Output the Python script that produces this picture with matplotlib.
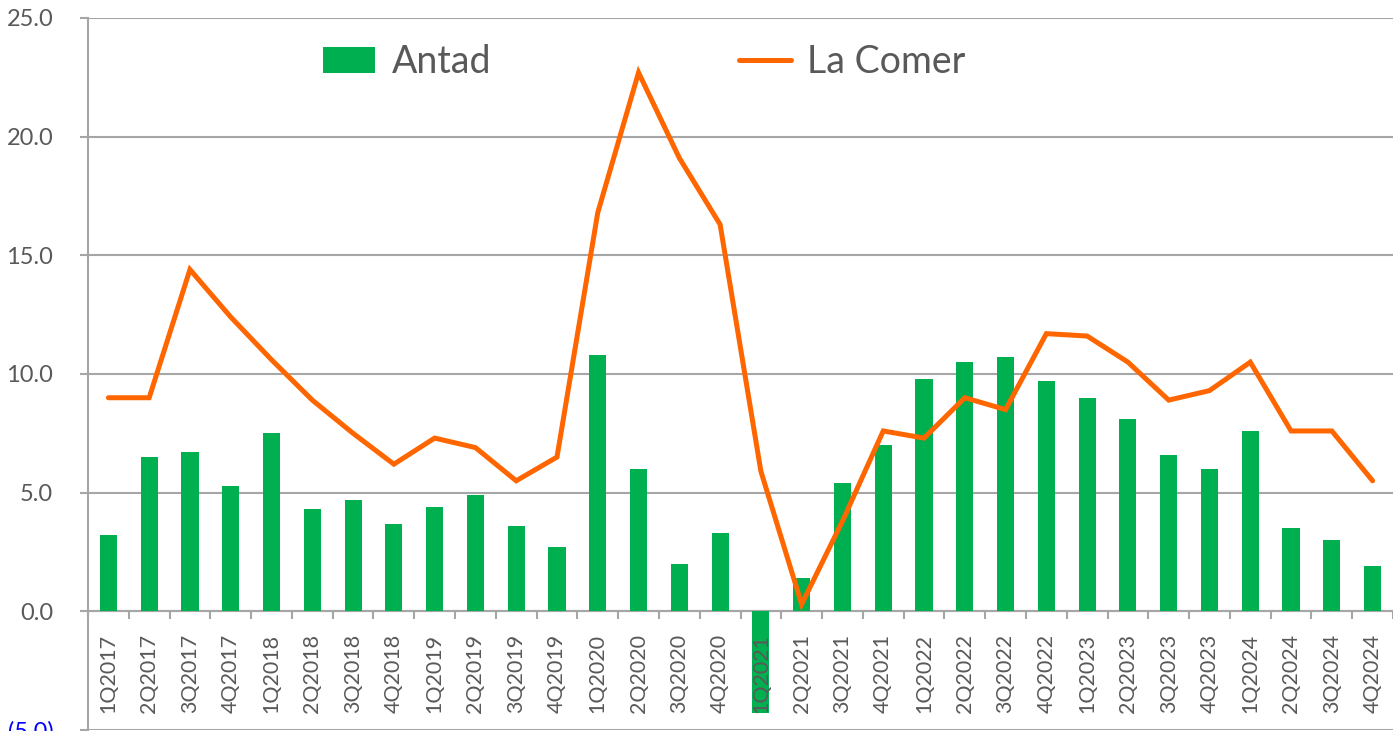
import matplotlib
matplotlib.use("Agg")
import matplotlib.pyplot as plt
import numpy as np

quarters = ["1Q2017","2Q2017","3Q2017","4Q2017","1Q2018","2Q2018","3Q2018","4Q2018",
            "1Q2019","2Q2019","3Q2019","4Q2019","1Q2020","2Q2020","3Q2020","4Q2020",
            "1Q2021","2Q2021","3Q2021","4Q2021","1Q2022","2Q2022","3Q2022","4Q2022",
            "1Q2023","2Q2023","3Q2023","4Q2023","1Q2024","2Q2024","3Q2024","4Q2024"]
antad = [3.2, 6.5, 6.7, 5.3, 7.5, 4.3, 4.7, 3.7,
         4.4, 4.9, 3.6, 2.7, 10.8, 6.0, 2.0, 3.3,
         -4.3, 1.4, 5.4, 7.0, 9.8, 10.5, 10.7, 9.7,
         9.0, 8.1, 6.6, 6.0, 7.6, 3.5, 3.0, 1.9]
la_comer = [9.0, 9.0, 14.4, 12.4, 10.6, 8.9, 7.5, 6.2,
            7.3, 6.9, 5.5, 6.5, 16.8, 22.7, 19.1, 16.3,
            5.9, 0.3, 3.8, 7.6, 7.3, 9.0, 8.5, 11.7,
            11.6, 10.5, 8.9, 9.3, 10.5, 7.6, 7.6, 5.5]
yticks = [-5, 0, 5, 10, 15, 20, 25]
ytick_labels = ["(5.0)", "0.0", "5.0", "10.0", "15.0", "20.0", "25.0"]

FONT = "Lato"
GRAY = "#A6A6A6"
TXT = "#595959"

fig = plt.figure(figsize=(13.93, 7.31), dpi=100)
ax = fig.add_axes([88/1393, 1/731, 1 - 88/1393, (730-18)/731])

x = np.arange(len(quarters))
bars = ax.bar(x, antad, width=0.42, color="#00B050", zorder=2, label="Antad")
line, = ax.plot(x, la_comer, color="#FF6600", lw=3.6, zorder=3, solid_joinstyle="miter",
                solid_capstyle="round", label="La Comer")

ax.set_xlim(-0.5, len(quarters) - 0.5)
ax.set_ylim(-5, 25)

ax.set_yticks(yticks)
ax.set_yticklabels(ytick_labels, fontfamily=FONT, fontsize=17, color=TXT)
ax.get_yticklabels()[0].set_color("#0000FF")
ax.tick_params(axis="y", length=6, width=1.5, color=GRAY, pad=19)
ax.grid(axis="y", color=GRAY, lw=1.5, zorder=0)
ax.set_axisbelow(True)

for s in ["top", "right"]:
    ax.spines[s].set_visible(False)
ax.spines["left"].set_color(GRAY)
ax.spines["left"].set_linewidth(1.5)
ax.spines["bottom"].set_position(("data", 0))
ax.spines["bottom"].set_color(GRAY)
ax.spines["bottom"].set_linewidth(1.5)
ax.spines["bottom"].set_zorder(1)

ax.set_xticks(np.arange(-0.5, len(quarters) + 0.5, 1))
ax.set_xticklabels([])
ax.tick_params(axis="x", which="major", length=6, width=1.5, color=GRAY)
ax.set_xticks(x, minor=True)
ax.set_xticklabels(quarters, minor=True, rotation=90, fontfamily=FONT,
                   fontsize=15.5, color=TXT, va="top")
ax.tick_params(axis="x", which="minor", length=0, pad=16)
ax.xaxis.set_zorder(4)

leg = ax.legend(handles=[bars, line], labels=["Antad", "La Comer"],
                loc="center left", bbox_to_anchor=((323-88)/1305, (730-62)/712), ncol=2,
                frameon=False, borderaxespad=0, borderpad=0,
                prop={"family": FONT, "size": 27},
                labelcolor=TXT, columnspacing=6.6, handlelength=1.39, handleheight=0.72,
                handletextpad=0.44)

fig.savefig("out.png", dpi=100)
